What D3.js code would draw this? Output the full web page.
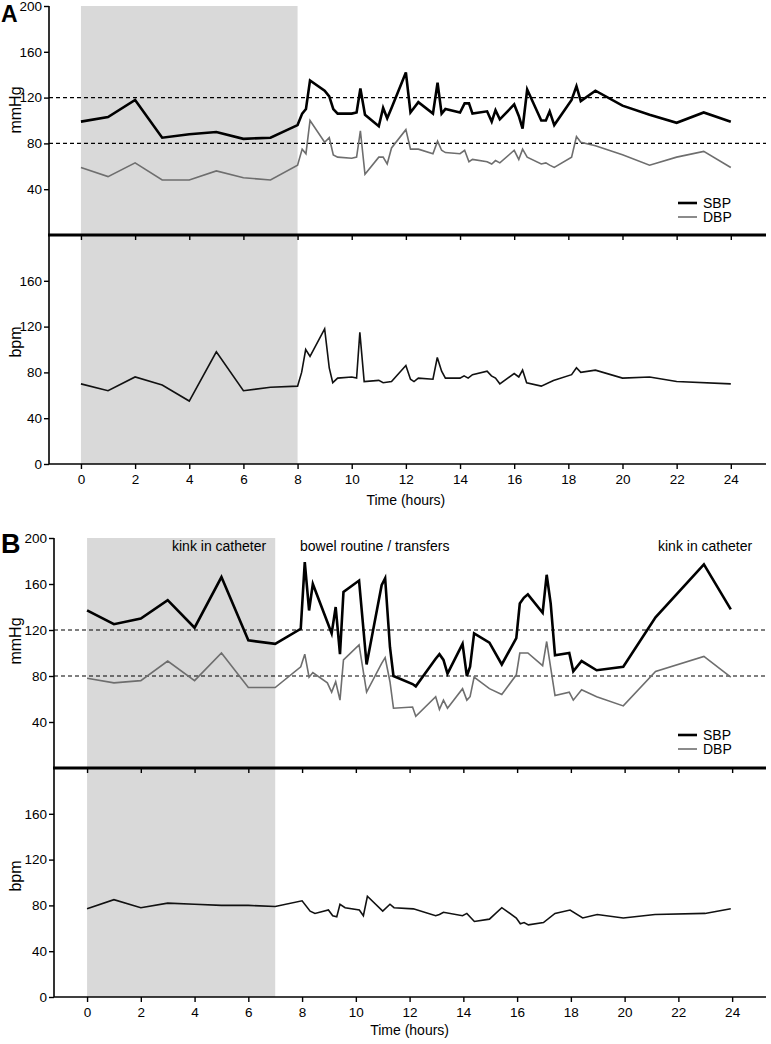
<!DOCTYPE html>
<html>
<head>
<meta charset="utf-8">
<script src="https://cdn.jsdelivr.net/npm/d3@7"></script>
<style>
  body { margin: 0; background: #fff; }
  svg { display: block; font-family: "Liberation Sans", Arial, sans-serif; }
</style>
</head>
<body>
<svg id="chart" width="771" height="1044"></svg>
<script>
// ---------------- DATA ----------------
const xTickLabels = [0, 2, 4, 6, 8, 10, 12, 14, 16, 18, 20, 22, 24];
const bpTickLabels = [40, 80, 120, 160, 200];
const hrTickLabels = [0, 40, 80, 120, 160];
const thresholds = [120, 80];
const seriesNames = ["SBP", "DBP"];

// Panel A
const shadeA = [0, 8];
const hoursA_BP = [0,1,2,3,4,5,6,7,8,8.17,8.31,8.46,9.0,9.17,9.32,9.48,10.0,10.18,10.32,10.49,11.0,11.16,11.31,11.47,12.0,12.17,12.46,13.0,13.17,13.32,13.46,14.0,14.17,14.33,14.46,15.0,15.17,15.31,15.47,16.0,16.17,16.31,16.48,17.0,17.17,17.31,17.48,18.12,18.3,18.46,19,20,21,22,23,24];
const sbpA = [99,103,118,85,88,90,84,85,96,106,110,135,126,121,110,106,106,107,128,105,95,111,102,111,142,107,116,106,133,106,110,107,115,115,106,108,99,109,101,114,104,93,127,100,100,108,96,118,130,117,126,113,105,98,107,99];
const dbpA = [59,51,63,48,48,56,50,48,61,75,71,100,81,85,70,68,67,68,91,53,68,68,62,76,92,75,75,71,82,74,72,71,74,64,66,64,62,65,63,74,66,75,68,62,63,61,59,68,86,81,78,70,61,68,73,59];
const hoursA_HR = [0,1,2,3,4,5,6,7,8,8.15,8.3,8.46,9.0,9.17,9.3,9.48,10.0,10.18,10.3,10.46,11.0,11.16,11.47,12.0,12.17,12.3,12.46,13.0,13.16,13.32,13.46,14.0,14.15,14.3,14.46,15.0,15.16,15.31,15.47,16.0,16.17,16.31,16.46,17.0,17.45,18.12,18.3,18.46,19,20,21,22,24];
const hrA = [70,64,76,69,55,98,64,67,68,80,100,94,118,84,71,75,76,75,115,72,73,71,72,86,74,72,75,74,93,81,75,75,77,75,78,81,77,75,70,79,76,82,71,68,73,78,84,80,82,75,76,72,70];

// Panel B
const shadeB = [0, 7];
const annotationsB = ["kink in catheter", "bowel routine / transfers", "kink in catheter"];
const hoursB_BP = [0,1,2,3,4,5,6,7,7.95,8.1,8.26,8.4,8.94,9.1,9.25,9.41,9.54,10.12,10.4,10.96,11.09,11.27,11.4,12.11,12.23,12.97,13.11,13.26,13.41,13.97,14.13,14.25,14.4,14.97,15.43,15.97,16.1,16.25,16.4,16.95,17.1,17.25,17.41,17.94,18.09,18.4,18.96,19.95,21.15,22.95,23.95];
const sbpB = [137,125,130,146,122,166,111,108,121,179,137,160,127,117,140,99,153,163,90,159,165,105,80,73,71,95,99,94,82,108,80,88,117,109,90,113,143,148,151,135,168,143,98,100,84,93,85,88,131,177,138];
const dbpB = [78,74,76,93,76,100,70,70,88,99,79,83,74,66,75,59,94,107,66,91,96,75,52,53,45,62,51,59,52,69,59,62,79,69,64,81,100,100,100,89,110,87,63,66,59,68,62,54,84,97,79];
const hoursB_HR = [0,1,2,3,4,5,6,7,8,8.3,8.48,8.98,9.14,9.29,9.41,9.6,10.13,10.28,10.43,11.0,11.27,11.42,12.14,12.97,13.11,13.26,13.97,14.13,14.41,14.97,15.43,15.97,16.12,16.26,16.42,16.98,17.41,17.97,18.44,18.98,19.95,21.13,22.99,23.95];
const hrB = [77,85,78,82,81,80,80,79,84,75,73,76,71,70,81,78,76,71,88,75,81,78,77,71,72,74,71,73,66,68,78,69,64,65,63,65,73,76,69,72,69,72,73,77];

// ---------------- DRAW ----------------
const svg = d3.select("#chart");

function panel(cfg) {
  const g = svg.append("g");
  const x = d3.scaleLinear().domain(cfg.xDomain).range([cfg.left, cfg.right]);
  const yBP = d3.scaleLinear().domain([0, 200]).range([cfg.bpBottom, cfg.bpTop]);
  const yHR = d3.scaleLinear().domain([0, 200]).range([cfg.hrBottom, cfg.bpBottom]);

  // shading
  g.append("rect")
    .attr("x", x(cfg.shade[0])).attr("width", x(cfg.shade[1]) - x(cfg.shade[0]))
    .attr("y", yBP(200)).attr("height", yHR(0) - yBP(200))
    .attr("fill", "#d9d9d9");

  // threshold dashed lines
  g.selectAll(".thr").data(thresholds).enter().append("line")
    .attr("x1", cfg.left).attr("x2", cfg.right)
    .attr("y1", d => yBP(d)).attr("y2", d => yBP(d))
    .attr("stroke", "#000").attr("stroke-width", 1.2).attr("stroke-dasharray", "4,3");

  // y axes
  const ayBP = g.append("g").attr("transform", `translate(${cfg.left},0)`)
    .call(d3.axisLeft(yBP).tickValues(bpTickLabels).tickSize(5).tickPadding(2));
  const ayHR = g.append("g").attr("transform", `translate(${cfg.left},0)`)
    .call(d3.axisLeft(yHR).tickValues(hrTickLabels).tickSize(5).tickPadding(2));
  [ayBP, ayHR].forEach(a => {
    a.select(".domain").remove();
    a.selectAll("text").attr("font-size", 13.5).attr("fill", "#000").attr("font-family", "Liberation Sans, Arial, sans-serif");
    a.selectAll("line").attr("stroke", "#000").attr("stroke-width", 1.4);
  });
  g.append("line").attr("x1", cfg.left).attr("x2", cfg.left)
    .attr("y1", yBP(200)).attr("y2", yHR(0)).attr("stroke", "#000").attr("stroke-width", 1.6);

  // separator axis (thick) with downward ticks
  const sep = g.append("g").attr("transform", `translate(0,${cfg.bpBottom})`)
    .call(d3.axisBottom(x).tickValues(xTickLabels).tickSize(5).tickFormat(""));
  sep.select(".domain").remove();
  sep.selectAll("line").attr("stroke", "#000").attr("stroke-width", 1.4);
  g.append("line").attr("x1", cfg.left - 1).attr("x2", cfg.right)
    .attr("y1", cfg.bpBottom).attr("y2", cfg.bpBottom)
    .attr("stroke", "#000").attr("stroke-width", 3);

  // bottom x axis
  const ax = g.append("g").attr("transform", `translate(0,${cfg.hrBottom})`)
    .call(d3.axisBottom(x).tickValues(xTickLabels).tickSize(5).tickPadding(5));
  ax.select(".domain").remove();
  ax.selectAll("line").attr("stroke", "#000").attr("stroke-width", 1.4);
  ax.selectAll("text").attr("font-size", 13.5).attr("fill", "#000").attr("font-family", "Liberation Sans, Arial, sans-serif");
  g.append("line").attr("x1", cfg.left).attr("x2", cfg.right)
    .attr("y1", cfg.hrBottom).attr("y2", cfg.hrBottom)
    .attr("stroke", "#000").attr("stroke-width", 1.6);

  // axis titles
  g.append("text").attr("transform", `translate(21,${cfg.bpLabelY}) rotate(-90)`)
    .attr("text-anchor", "middle").attr("font-size", 16).text("mmHg");
  g.append("text").attr("transform", `translate(21,${cfg.hrLabelY}) rotate(-90)`)
    .attr("text-anchor", "middle").attr("font-size", 16).text("bpm");
  g.append("text").attr("x", (x(0) + x(24)) / 2).attr("y", cfg.titleY)
    .attr("text-anchor", "middle").attr("font-size", 14).text("Time (hours)");

  // panel letter
  g.append("text").attr("x", 1).attr("y", cfg.letterY)
    .attr("font-size", cfg.letterSize).attr("font-weight", "bold").text(cfg.letter);

  // lines
  const mk = (hours, yScale) => d3.line().x((d, i) => x(hours[i])).y(d => yScale(d));
  g.append("path").datum(cfg.dbp).attr("d", mk(cfg.hBP, yBP))
    .attr("fill", "none").attr("stroke", "#6e6e6e").attr("stroke-width", 1.6);
  g.append("path").datum(cfg.sbp).attr("d", mk(cfg.hBP, yBP))
    .attr("fill", "none").attr("stroke", "#000").attr("stroke-width", 2.6);
  g.append("path").datum(cfg.hr).attr("d", mk(cfg.hHR, yHR))
    .attr("fill", "none").attr("stroke", "#111").attr("stroke-width", 1.6);

  // legend
  seriesNames.forEach((name, i) => {
    const yy = cfg.legendY + i * 14;
    g.append("line").attr("x1", 678).attr("x2", 697).attr("y1", yy).attr("y2", yy)
      .attr("stroke", i === 0 ? "#000" : "#6e6e6e").attr("stroke-width", i === 0 ? 2.6 : 1.6);
    g.append("text").attr("x", 703).attr("y", yy + 5).attr("font-size", 14).text(name);
  });

  // annotations
  if (cfg.annotations) {
    cfg.annotations.forEach((a, i) => {
      g.append("text").attr("x", cfg.annX[i]).attr("y", cfg.annY)
        .attr("font-size", 14).text(a);
    });
  }
}

panel({
  letter: "A", letterY: 22, letterSize: 23,
  xDomain: [-1.18, 25.3], left: 49, right: 766,
  bpTop: 6, bpBottom: 235, hrBottom: 464,
  shade: shadeA,
  hBP: hoursA_BP, sbp: sbpA, dbp: dbpA, hHR: hoursA_HR, hr: hrA,
  bpLabelY: 110, hrLabelY: 342, titleY: 505, legendY: 203
});

panel({
  letter: "B", letterY: 553, letterSize: 27,
  xDomain: [-1.23, 25.26], left: 54, right: 766,
  bpTop: 538, bpBottom: 768, hrBottom: 997,
  shade: shadeB,
  hBP: hoursB_BP, sbp: sbpB, dbp: dbpB, hHR: hoursB_HR, hr: hrB,
  bpLabelY: 641, hrLabelY: 876, titleY: 1035, legendY: 735,
  annotations: annotationsB, annX: [172, 300, 658], annY: 551
});
</script>
</body>
</html>
